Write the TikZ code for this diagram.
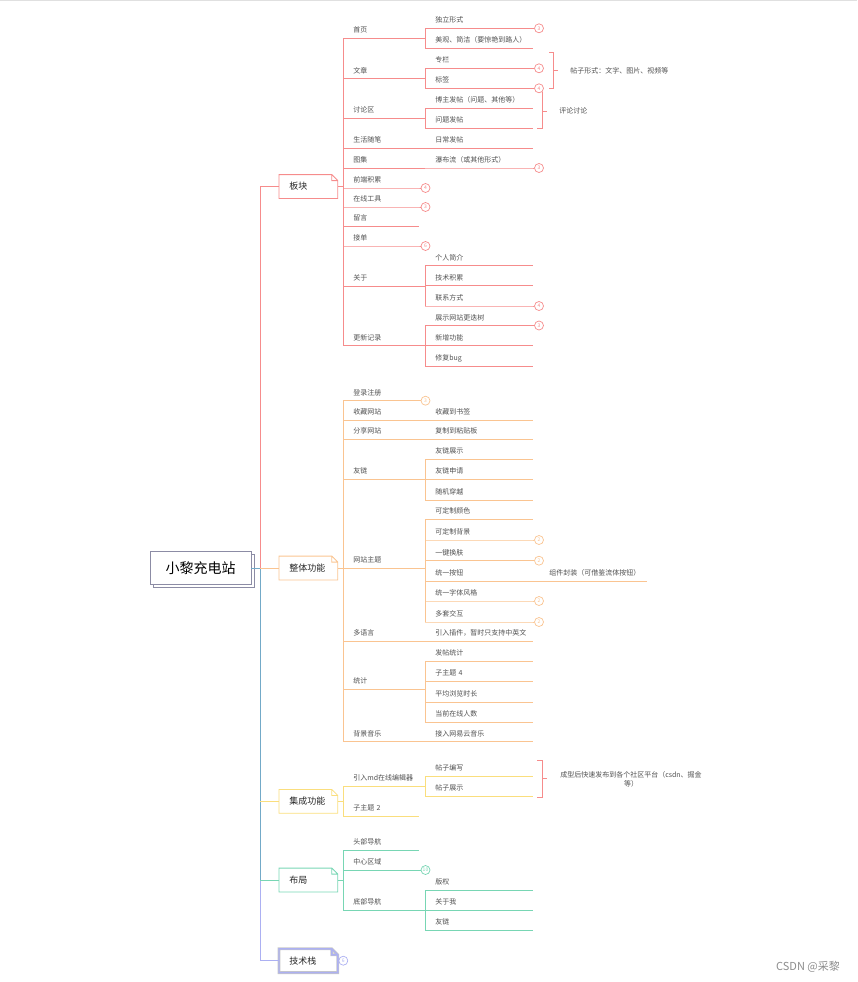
\documentclass[tikz,border=0pt]{standalone}
\usepackage{fontspec}
\newfontfamily\cjk{Noto Sans CJK SC}
\usetikzlibrary{shadows}
\definecolor{pk}{RGB}{246,140,140}
\definecolor{og}{RGB}{250,196,145}
\definecolor{yw}{RGB}{250,222,125}
\definecolor{gn}{RGB}{120,214,180}
\definecolor{lv}{RGB}{172,176,242}
\definecolor{tb}{RGB}{115,170,200}
\definecolor{txt}{RGB}{80,80,80}
\definecolor{rootc}{RGB}{140,140,165}
\begin{document}
\begin{tikzpicture}[x=1pt,y=-1pt,line width=.8pt,font=\cjk\fontsize{7}{8}\selectfont,
  t1/.style={anchor=south west,inner xsep=10pt,inner ysep=4pt,text height=6pt,text depth=1pt,text width=55pt,align=left,text=txt},
  t2/.style={t1,text width=87pt},
  topic/.style={anchor=west,inner xsep=10pt,text width=38pt,align=left,minimum height=23pt,text=black!85,font=\cjk\fontsize{9}{10}\selectfont},
  cnt/.style={circle,draw=#1,fill=white,text=#1,inner sep=0pt,minimum size=9pt,line width=.7pt,font=\cjk\fontsize{5}{5}\selectfont}]
\useasboundingbox (0,0) rectangle (857,982);
\draw[black!12] (0,.5) -- (857,.5);

\node[draw=rootc,fill=white,minimum width=101pt,minimum height=33pt,font=\cjk\fontsize{14}{16}\selectfont,copy shadow={shadow xshift=3pt,shadow yshift=-3pt}] (root) at (200.5,568) {小黎充电站};
\node[topic] (bk) at (279,186.5) {板块};
\node[topic] (zt) at (279,568) {整体功能};
\node[topic] (jc) at (279,801.3) {集成功能};
\node[topic] (bj) at (279,880) {布局};
\node[topic] (js) at (279,960.7) {技术栈};
\foreach \n/\c/\w in {bk/pk/.8pt,zt/og/.8pt,jc/yw/.8pt,bj/gn/.8pt,js/black!22/2.8pt,js/lv/1.4pt}
  \draw[\c,line width=\w] (\n.south west) -- (\n.north west) -- ([xshift=-6pt]\n.north east) -- ([yshift=-6pt]\n.north east) -- (\n.south east) -- cycle
    ([xshift=-6pt]\n.north east) -- ([xshift=-6pt,yshift=-6pt]\n.north east) -- ([yshift=-6pt]\n.north east);

\coordinate (tr) at (260,568);
\draw[lv] (tr) |- (js.west);
\draw[tb] (root.east) -- (tr) -- (tr |- bj.west);
\draw[gn] (tr |- bj.west) -- (bj.west);
\draw[yw] (tr |- jc.west) -- (jc.west);
\draw[pk] (tr) |- (bk.west);
\draw[og] (tr) -- (zt.west);

\node[t1] (sy) at (343,38.3) {首页};
\node[t1] (wz) at (343,78.5) {文章};
\node[t1] (tl) at (343,118.3) {讨论区};
\node[t1] (sh) at (343,148) {生活随笔};
\node[t1] (tj) at (343,168) {图集};
\node[t1] (qd) at (343,188) {前端积累};
\node[t1] (zx) at (343,207) {在线工具};
\node[t1] (ly) at (343,226) {留言};
\node[t1] (jd) at (343,246) {接单};
\node[t1] (gy) at (343,286) {关于};
\node[t1] (gx) at (343,345.5) {更新记录};
\node[t2] (dl) at (425,28.3) {独立形式};
\node[t2] (mg) at (425,48.3) {美观、简洁（要惊艳到路人）};
\node[t2] (zl) at (425,68.3) {专栏};
\node[t2] (bq) at (425,88.3) {标签};
\node[t2] (bz) at (425,108.3) {博主发帖（问题、其他等）};
\node[t2] (wt) at (425,128.3) {问题发帖};
\node[t2] (rc) at (425,148) {日常发帖};
\node[t2] (pb) at (425,168) {瀑布流（或其他形式）};
\node[t2] (gr) at (425,265.5) {个人简介};
\node[t2] (jj) at (425,285.7) {技术积累};
\node[t2] (lx) at (425,306) {联系方式};
\node[t2] (zs) at (425,325.5) {展示网站更迭树};
\node[t2] (xz) at (425,345.5) {新增功能};
\node[t2] (xf) at (425,366) {修复bug};
\node[cnt=pk] (c1) at (539,28.3) {3};
\node[cnt=pk] (c2) at (539,68.3) {4};
\node[cnt=pk] (c3) at (539,88.3) {4};
\node[cnt=pk] (c4) at (539,168) {3};
\node[cnt=pk] (c5) at (425.5,188) {4};
\node[cnt=pk] (c6) at (425.5,207) {3};
\node[cnt=pk] (c7) at (425.5,246) {6};
\node[cnt=pk] (c8) at (539,306) {4};
\node[cnt=pk] (c9) at (539,325.5) {3};
\foreach \n in {sy,wz,tl,sh,tj,ly,gy,gx,mg,bz,wt,rc,gr,jj,xz,xf}
  \draw[pk] (\n.south west) -- (\n.south east);
\foreach \n/\c in {dl/c1,zl/c2,bq/c3,pb/c4,qd/c5,zx/c6,jd/c7,lx/c8,zs/c9}
  \draw[pk] (\n.south west) -- (\n.south east) -- (\c.west);
\draw[pk] (bk.east) -- (bk.east -| sy.west) (sy.south west) -- (gx.south west);
\foreach \p/\a/\b in {sy/dl/mg,wz/zl/bq,tl/bz/wt,sh/rc/rc,tj/pb/pb,gy/gr/lx,gx/zs/xf}
  \draw[pk] (\p.south east) -- (\p.south east -| \a.west) (\a.south west) -- (\b.south west);
\draw[pk] (549,52.3) -| (553.3,88) -- (549,88) (553.3,70.5) -- (558,70.5);
\node[anchor=west,inner sep=0pt,text=txt] (xs) at (570,71) {帖子形式：文字、图片、视频等};
\draw[pk] (542.7,91.5) |- (537,128.3) (542.7,111) -- (547,111);
\node[anchor=west,inner sep=0pt,text=txt] (pl) at (559,110.7) {评论讨论};

\node[t1] (dz) at (343,400.7) {登录注册};
\node[t1] (sc) at (343,420) {收藏网站};
\node[t1] (fx) at (343,439.3) {分享网站};
\node[t1] (yl) at (343,479.3) {友链};
\node[t1] (wzt) at (343,568) {网站主题};
\node[t1] (dy) at (343,641.3) {多语言};
\node[t1] (tj2) at (343,689.3) {统计};
\node[t1] (bjy) at (343,741.7) {背景音乐};
\node[t2] (sq) at (425,420) {收藏到书签};
\node[t2] (fz) at (425,439.3) {复制到粘贴板};
\node[t2] (yz) at (425,459.3) {友链展示};
\node[t2] (ysq) at (425,479.3) {友链申请};
\node[t2] (sj) at (425,500) {随机穿越};
\node[t2] (kc) at (425,519.3) {可定制颜色};
\node[t2] (kb) at (425,540) {可定制背景};
\node[t2] (yj) at (425,560.7) {一键换肤};
\node[t2] (ta) at (425,581) {统一按钮};
\node[t2] (tz) at (425,601) {统一字体风格};
\node[t2] (dt) at (425,622) {多套交互};
\node[t2] (yr) at (425,641.3) {引入插件，暂时只支持中英文};
\node[t2] (ft) at (425,661) {发帖统计};
\node[t2] (z4) at (425,681.3) {子主题 4};
\node[t2] (pj) at (425,702) {平均浏览时长};
\node[t2] (dq) at (425,722) {当前在线人数};
\node[t2] (jr) at (425,741.7) {接入网易云音乐};
\node[t2] (zj) at (539,581) {组件封装（可借鉴流体按钮）};
\node[cnt=og] (d1) at (425.5,400.7) {3};
\node[cnt=og] (d2) at (539,540) {2};
\node[cnt=og] (d3) at (539,560.7) {2};
\node[cnt=og] (d4) at (539,601) {2};
\node[cnt=og] (d5) at (539,622) {2};
\foreach \n in {sc,fx,yl,wzt,dy,tj2,bjy,sq,fz,yz,ysq,sj,kc,ta,yr,ft,z4,pj,dq,jr,zj}
  \draw[og] (\n.south west) -- (\n.south east);
\foreach \n/\c in {dz/d1,kb/d2,yj/d3,tz/d4,dt/d5}
  \draw[og] (\n.south west) -- (\n.south east) -- (\c.west);
\draw[og] (zt.east) -- (zt.east -| dz.west) (dz.south west) -- (bjy.south west);
\foreach \p/\a/\b in {sc/sq/sq,fx/fz/fz,yl/yz/sj,wzt/kc/dt,dy/yr/yr,tj2/ft/dq,bjy/jr/jr,ta/zj/zj}
  \draw[og] (\p.south east) -- (\p.south east -| \a.west) (\a.south west) -- (\b.south west);

\node[t1] (md) at (343,786.3) {引入md在线编辑器};
\node[t1] (z2) at (343,816) {子主题 2};
\node[t2] (bx) at (425,776.3) {帖子编写};
\node[t2] (bzs) at (425,796.3) {帖子展示};
\foreach \n in {md,z2,bx,bzs}
  \draw[yw] (\n.south west) -- (\n.south east);
\draw[yw] (jc.east) -- (jc.east -| md.west) (md.south west) -- (z2.south west);
\draw[yw] (md.south east) -- (md.south east -| bx.west) (bx.south west) -- (bzs.south west);
\draw[pk] (537,760.7) -| (542.7,797) -- (537,797) (542.7,778.7) -- (547,778.7);
\node[align=center,text=txt,inner sep=0pt,font=\cjk\fontsize{7}{9}\selectfont] (cx) at (631,779.5) {成型后快速发布到各个社区平台（csdn、掘金\\等）};

\node[t1] (tbd) at (343,850) {头部导航};
\node[t1] (zq) at (343,870) {中心区域};
\node[t1] (dbd) at (343,910) {底部导航};
\node[t2] (bqq) at (425,890) {版权};
\node[t2] (gyw) at (425,910) {关于我};
\node[t2] (yl2) at (425,930.3) {友链};
\node[cnt=gn] (e1) at (425.5,870) {10};
\foreach \n in {tbd,dbd,bqq,gyw,yl2}
  \draw[gn] (\n.south west) -- (\n.south east);
\draw[gn] (zq.south west) -- (zq.south east) -- (e1.west);
\draw[gn] (bj.east) -- (bj.east -| tbd.west) (tbd.south west) -- (dbd.south west);
\draw[gn] (dbd.south east) -- (dbd.south east -| bqq.west) (bqq.south west) -- (yl2.south west);

\node[cnt=lv] (f1) at (343.3,960.7) {6};
\draw[lv] (js.east) -- (f1.west);

\node[text=black!45,font=\cjk\fontsize{11}{12}\selectfont] (wm) at (808,967) {CSDN @采黎};
\end{tikzpicture}
\end{document}
